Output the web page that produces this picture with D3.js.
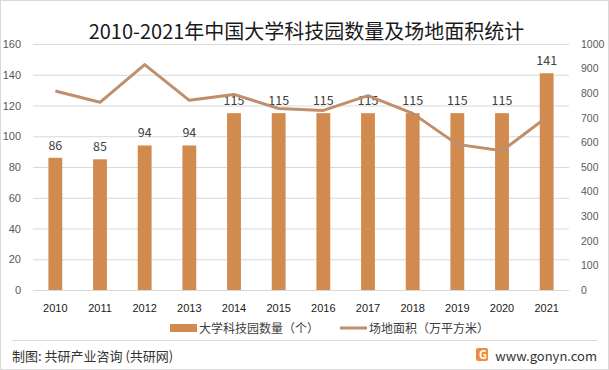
<!DOCTYPE html>
<html>
<head>
<meta charset="utf-8">
<script src="https://cdnjs.cloudflare.com/ajax/libs/d3/7.8.5/d3.min.js"></script>
<style>
  body { margin: 0; background: #fff; }
  svg { font-family: "Microsoft YaHei", "Noto Sans CJK SC", "DejaVu Sans", sans-serif; }
</style>
</head>
<body>
<div id="chart"></div>
<script>
// Data
var years = ["2010", "2011", "2012", "2013", "2014", "2015", "2016", "2017", "2018", "2019", "2020", "2021"];
var parkCount = [86, 85, 94, 94, 115, 115, 115, 115, 115, 115, 115, 141];
var siteArea = [809, 763, 916, 771, 795, 738, 730, 790, 718, 592, 566, 702];
var leftTicks = [0, 20, 40, 60, 80, 100, 120, 140, 160];
var rightTicks = [0, 100, 200, 300, 400, 500, 600, 700, 800, 900, 1000];

var W = 609, H = 370;
var margin = {top: 44, right: 40, bottom: 80, left: 33};
var width = W - margin.left - margin.right,
    height = H - margin.top - margin.bottom;

var svg = d3.select("#chart").append("svg")
    .attr("width", W)
    .attr("height", H);

// outer border
svg.append("rect")
    .attr("x", 0.5).attr("y", 0.5)
    .attr("width", W - 1).attr("height", H - 1)
    .attr("fill", "none").attr("stroke", "#d9d9d9");

// title
svg.append("text")
    .attr("x", W / 2 + 2).attr("y", 39)
    .attr("text-anchor", "middle")
    .attr("font-size", 20)
    .attr("fill", "#1a1a1a")
    .text("2010-2021年中国大学科技园数量及场地面积统计");

var g = svg.append("g")
    .attr("transform", "translate(" + margin.left + "," + margin.top + ")");

// scales
var x = d3.scaleBand().domain(years).range([0, width]).paddingInner(0.69).paddingOuter(0.345);
var y = d3.scaleLinear().domain([0, 160]).range([height, 0]);
var y2 = d3.scaleLinear().domain([0, 1000]).range([height, 0]);

// grid lines
g.append("g")
    .selectAll("line").data(leftTicks).enter().append("line")
    .attr("x1", 0).attr("x2", width)
    .attr("y1", function(d) { return y(d) + 0.5; })
    .attr("y2", function(d) { return y(d) + 0.5; })
    .attr("stroke", "#d9d9d9");

// left axis
var leftAxis = g.append("g")
    .call(d3.axisLeft(y).tickValues(leftTicks).tickFormat(d3.format("d")).tickSize(0).tickPadding(12));
leftAxis.select(".domain").remove();
leftAxis.selectAll("text").attr("font-size", 11).attr("fill", "#595959");

// right axis
var rightAxis = g.append("g")
    .attr("transform", "translate(" + width + ",0)")
    .call(d3.axisRight(y2).tickValues(rightTicks).tickFormat(d3.format("d")).tickSize(0).tickPadding(12));
rightAxis.select(".domain").remove();
rightAxis.selectAll("text").attr("font-size", 10.5).attr("fill", "#595959");

// bottom axis
var bottomAxis = g.append("g")
    .attr("transform", "translate(0," + height + ")")
    .call(d3.axisBottom(x).tickSize(0).tickPadding(14));
bottomAxis.select(".domain").remove();
bottomAxis.selectAll("text").attr("font-size", 11).attr("fill", "#1a1a1a");

// bars
g.selectAll(".bar").data(parkCount).enter().append("rect")
    .attr("class", "bar")
    .attr("x", function(d, i) { return x(years[i]); })
    .attr("y", function(d) { return y(d); })
    .attr("width", x.bandwidth())
    .attr("height", function(d) { return height - y(d); })
    .attr("fill", "#d28b4e");

// bar labels
g.selectAll(".barlabel").data(parkCount).enter().append("text")
    .attr("class", "barlabel")
    .attr("x", function(d, i) { return x(years[i]) + x.bandwidth() / 2; })
    .attr("y", function(d) { return y(d) - 8; })
    .attr("text-anchor", "middle")
    .attr("font-size", 12.5)
    .attr("fill", "#404040")
    .text(function(d) { return d; });

// line
var line = d3.line()
    .x(function(d, i) { return x(years[i]) + x.bandwidth() / 2; })
    .y(function(d) { return y2(d); });

g.append("path")
    .datum(siteArea)
    .attr("d", line)
    .attr("fill", "none")
    .attr("stroke", "#bf8f6c")
    .attr("stroke-width", 3)
    .attr("stroke-linejoin", "round");

// legend
var legend = svg.append("g").attr("transform", "translate(0,328)");
legend.append("rect").attr("x", 170).attr("y", -4).attr("width", 27).attr("height", 8).attr("fill", "#d28b4e");
legend.append("text").attr("x", 199).attr("y", 5).attr("font-size", 12).attr("fill", "#404040")
    .text("大学科技园数量（个）");
legend.append("line").attr("x1", 340).attr("x2", 367).attr("y1", 0).attr("y2", 0)
    .attr("stroke", "#bf8f6c").attr("stroke-width", 3);
legend.append("text").attr("x", 369).attr("y", 5).attr("font-size", 12).attr("fill", "#404040")
    .text("场地面积（万平方米）");

// footer
svg.append("line").attr("x1", 12).attr("x2", 597).attr("y1", 340.5).attr("y2", 340.5)
    .attr("stroke", "#d9d9d9");
svg.append("text").attr("x", 12).attr("y", 361).attr("font-size", 13).attr("fill", "#333")
    .text("制图: 共研产业咨询 (共研网)");
svg.append("rect").attr("x", 476).attr("y", 348).attr("width", 12).attr("height", 13).attr("rx", 2)
    .attr("fill", "#f08a3c");
svg.append("text").attr("x", 479).attr("y", 359).attr("font-size", 11).attr("font-weight", "bold")
    .attr("fill", "#fff").text("G");
svg.append("text").attr("x", 597).attr("y", 361).attr("text-anchor", "end")
    .attr("font-size", 13).attr("fill", "#333")
    .text("www.gonyn.com");
</script>
</body>
</html>
